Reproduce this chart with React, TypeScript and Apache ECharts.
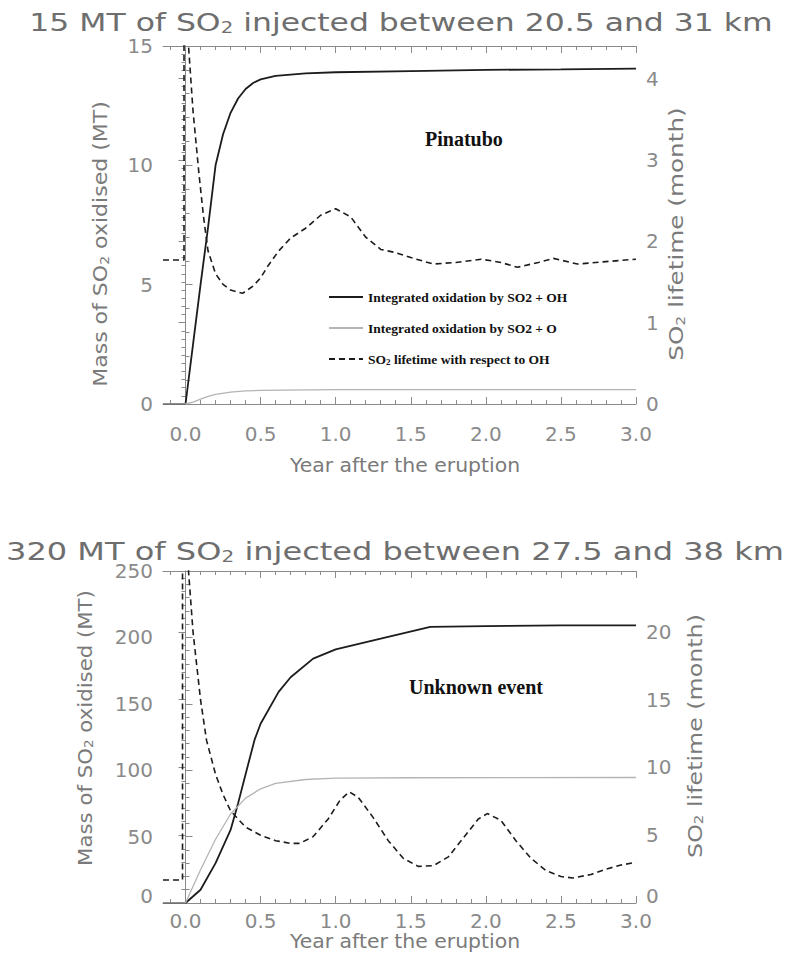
import React, { useEffect, useRef } from "react";
import * as echarts from "echarts";

// ---------- DATA ----------
// Pinatubo (15 MT)
const pinOHYears = [-0.15, 0.0, 0.05, 0.1, 0.15, 0.2, 0.25, 0.3, 0.35, 0.4, 0.45, 0.5, 0.6, 0.8, 1.0, 1.5, 2.0, 2.5, 3.0];
const pinOHMass = [0, 0, 2.5, 5.0, 7.4, 10.0, 11.3, 12.2, 12.8, 13.2, 13.45, 13.6, 13.75, 13.85, 13.9, 13.95, 14.0, 14.02, 14.05];

const pinOYears = [-0.15, 0.0, 0.05, 0.1, 0.15, 0.2, 0.3, 0.4, 0.5, 1.0, 2.0, 3.0];
const pinOMass = [0, 0, 0.08, 0.2, 0.32, 0.4, 0.5, 0.55, 0.57, 0.6, 0.6, 0.6];

const pinLifeYears = [-0.15, -0.01, -0.01, 0.01, 0.02, 0.05, 0.09, 0.12, 0.15, 0.2, 0.25, 0.3, 0.38, 0.45, 0.5, 0.55, 0.62, 0.7, 0.8, 0.9, 1.0, 1.1, 1.2, 1.3, 1.4, 1.5, 1.65, 1.8, 1.97, 2.1, 2.21, 2.35, 2.45, 2.61, 2.8, 3.0];
const pinLifeMonths = [1.77, 1.77, 6, 6, 4.4, 3.6, 2.82, 2.3, 1.88, 1.6, 1.47, 1.4, 1.36, 1.45, 1.55, 1.7, 1.88, 2.04, 2.16, 2.32, 2.4, 2.3, 2.05, 1.9, 1.86, 1.8, 1.72, 1.74, 1.78, 1.74, 1.68, 1.74, 1.79, 1.72, 1.75, 1.78];

// Unknown event (320 MT)
const unkOHYears = [-0.15, 0.0, 0.1, 0.2, 0.3, 0.35, 0.4, 0.46, 0.5, 0.62, 0.7, 0.85, 1.0, 1.3, 1.63, 2.0, 2.5, 3.0];
const unkOHMass = [0, 0, 10, 30, 55, 75, 97, 123, 135, 159, 170, 184, 191, 199, 208, 208.5, 209, 209];

const unkOYears = [-0.15, 0.0, 0.1, 0.2, 0.3, 0.4, 0.5, 0.6, 0.8, 1.0, 1.5, 3.0];
const unkOMass = [0, 0, 25, 48, 67, 79, 86, 90, 93, 94, 94.3, 94.5];

const unkLifeYears = [-0.15, -0.02, -0.02, 0.0, 0.02, 0.05, 0.1, 0.14, 0.2, 0.25, 0.3, 0.4, 0.5, 0.6, 0.7, 0.76, 0.85, 0.95, 1.03, 1.09, 1.15, 1.25, 1.35, 1.45, 1.55, 1.65, 1.75, 1.85, 1.95, 2.01, 2.1, 2.2, 2.3, 2.4, 2.5, 2.58, 2.7, 2.8, 2.9, 3.0];
const unkLifeMonths = [1.7, 1.7, 40, 40, 24.5, 20, 15, 12, 9.5, 8.0, 6.8, 5.6, 5.0, 4.6, 4.4, 4.4, 4.9, 6.2, 7.6, 8.2, 7.8, 6.3, 4.6, 3.3, 2.7, 2.75, 3.4, 4.8, 6.2, 6.6, 6.1, 4.6, 3.3, 2.4, 1.95, 1.85, 2.1, 2.5, 2.8, 3.0];

// ---------- AXES / TICKS ----------
const X_MIN = -0.15;
const X_MAX = 3.0;
const xMajorTicks = [0, 0.5, 1.0, 1.5, 2.0, 2.5, 3.0];
const xMinorTicks = [-0.1, 0.0, 0.1, 0.2, 0.3, 0.4, 0.5, 0.6, 0.7, 0.8, 0.9, 1.0, 1.1, 1.2, 1.3, 1.4, 1.5, 1.6, 1.7, 1.8, 1.9, 2.0, 2.1, 2.2, 2.3, 2.4, 2.5, 2.6, 2.7, 2.8, 2.9, 3.0];

const titles = [
  "15 MT of SO{s|2} injected between 20.5 and 31 km",
  "320 MT of SO{s|2} injected between 27.5 and 38 km",
];
const xAxisName = "Year after the eruption";
const massName = "Mass of SO{s|2} oxidised (MT)";
const lifeName = "SO{s|2} lifetime (month)";
const panelLabels = ["Pinatubo", "Unknown event"];
const legendNames = [
  "Integrated oxidation by SO2 + OH",
  "Integrated oxidation by SO2 + O",
  "SO2 lifetime with respect to OH",
];

const zip = (xs: number[], ys: number[]) => xs.map((x, i) => [x, ys[i]]);

const AXIS_COLOR = "#8a8a8a";
const LABEL_COLOR = "#8a8a8a";
const NAME_COLOR = "#7a7a7a";
const FONT = "DejaVu Sans";

function xAxesFor(gridIndex: number, labelMargin: number) {
  const base = {
    type: "value",
    gridIndex,
    min: X_MIN,
    max: X_MAX,
    splitLine: { show: false },
  };
  return [
    {
      ...base,
      position: "bottom",
      axisLine: { show: true, lineStyle: { color: AXIS_COLOR, width: 1 } },
      axisTick: { show: true, inside: true, length: 7, customValues: xMajorTicks, lineStyle: { color: AXIS_COLOR } },
      axisLabel: {
        show: true,
        customValues: xMajorTicks,
        formatter: (v: number) => v.toFixed(1),
        color: LABEL_COLOR,
        fontSize: 20,
        lineHeight: 14,
        fontFamily: FONT,
        margin: labelMargin,
      },
    },
    {
      ...base,
      position: "bottom",
      axisLine: { show: false },
      axisTick: { show: true, inside: true, length: 4, customValues: xMinorTicks, lineStyle: { color: AXIS_COLOR } },
      axisLabel: { show: false },
    },
    {
      ...base,
      position: "top",
      axisLine: { show: true, lineStyle: { color: AXIS_COLOR, width: 1 } },
      axisTick: { show: true, inside: true, length: 7, customValues: xMajorTicks, lineStyle: { color: AXIS_COLOR } },
      axisLabel: { show: false },
    },
    {
      ...base,
      position: "top",
      axisLine: { show: false },
      axisTick: { show: true, inside: true, length: 4, customValues: xMinorTicks, lineStyle: { color: AXIS_COLOR } },
      axisLabel: { show: false },
    },
  ];
}

function yAxis(gridIndex: number, position: string, max: number, interval: number, minorSplit: number, liftZero = false) {
  return {
    type: "value",
    gridIndex,
    position,
    min: 0,
    max,
    interval,
    splitLine: { show: false },
    axisLine: { show: true, lineStyle: { color: AXIS_COLOR, width: 1 } },
    axisTick: { show: true, inside: true, length: 7, lineStyle: { color: AXIS_COLOR } },
    minorTick: { show: true, splitNumber: minorSplit, length: 4, lineStyle: { color: AXIS_COLOR } },
    axisLabel: {
      color: LABEL_COLOR,
      fontSize: 20,
      lineHeight: 14,
      fontFamily: FONT,
      margin: 10,
      showMaxLabel: max % interval === 0,
      formatter: liftZero ? (v: number) => (v === 0 ? "{z|0}" : String(v)) : undefined,
      rich: liftZero
        ? { z: { fontSize: 20, lineHeight: 14, fontFamily: FONT, color: LABEL_COLOR, padding: [0, 0, 14, 0] } }
        : undefined,
    },
  };
}

const ohStyle = { color: "#1c1c1c", width: 1.8 };
const oStyle = { color: "#b4b4b4", width: 1.3 };
const lifeStyle = { color: "#1c1c1c", width: 1.6, type: [6, 4] };

function lineSeries(name: string, xi: number, yi: number, data: number[][], lineStyle: any) {
  return {
    type: "line",
    name,
    xAxisIndex: xi,
    yAxisIndex: yi,
    data,
    symbol: "none",
    showSymbol: false,
    color: lineStyle.color,
    lineStyle,
    clip: true,
    z: 3,
  };
}

function hText(text: string, x: number, y: number, size: number, subSize: number, color: string, scaleX: number, rotation = 0) {
  return {
    type: "text",
    x,
    y,
    rotation,
    scaleX,
    silent: true,
    style: {
      text,
      fill: color,
      fontSize: size,
      fontFamily: FONT,
      align: "center",
      verticalAlign: "middle",
      textAlign: "center",
      textVerticalAlign: "middle",
      rich: {
        s: { fontSize: subSize, fontFamily: FONT, fill: color, color, verticalAlign: "bottom", lineHeight: subSize },
      },
    },
  };
}

export default function App() {
  const ref = useRef<HTMLDivElement>(null);

  useEffect(() => {
    if (!ref.current) return;
    const chart = echarts.init(ref.current, undefined, { renderer: "svg" });
    const ROT = Math.PI / 2;

    const option: any = {
      animation: false,
      backgroundColor: "#ffffff",
      grid: [
        { left: 163, right: 154, top: 46, height: 358 },
        { left: 163, right: 154, top: 571, height: 332 },
      ],
      xAxis: [...xAxesFor(0, 23), ...xAxesFor(1, 11)],
      yAxis: [
        yAxis(0, "left", 15, 5, 5),
        yAxis(0, "right", 4.4, 1, 10),
        yAxis(1, "left", 250, 50, 5, true),
        yAxis(1, "right", 24.5, 5, 5, true),
      ],
      legend: {
        show: true,
        orient: "vertical",
        left: 328,
        top: 290,
        padding: 0,
        itemWidth: 34,
        itemHeight: 14,
        itemGap: 17,
        itemStyle: { opacity: 0 },
        data: legendNames,
        formatter: (n: string) => (n.startsWith("SO2 lifetime") ? "SO{s|2} lifetime with respect to OH" : n),
        textStyle: {
          color: "#111",
          fontSize: 13.5,
          fontWeight: "bold",
          fontFamily: "Liberation Serif",
          rich: { s: { fontSize: 9, verticalAlign: "bottom", lineHeight: 9, fontWeight: "bold", fontFamily: "Liberation Serif", color: "#111" } },
        },
      },
      graphic: [
        hText(titles[0], 401, 23, 24, 15, "#6e6e6e", 1.31),
        hText(titles[1], 395, 552, 24, 15, "#6e6e6e", 1.335),
        hText(xAxisName, 405, 465, 20, 13, NAME_COLOR, 1.02),
        hText(xAxisName, 405, 941, 20, 13, NAME_COLOR, 1.02),
        hText(massName, 101, 244, 19, 12, NAME_COLOR, 1.16, ROT),
        hText(lifeName, 677, 234, 19, 12, NAME_COLOR, 1.3, ROT),
        hText(massName, 85, 728, 19, 12, NAME_COLOR, 1.12, ROT),
        hText(lifeName, 695, 736, 19, 12, NAME_COLOR, 1.25, ROT),
        {
          type: "text",
          left: 425,
          top: 129,
          silent: true,
          style: { text: panelLabels[0], font: "bold 20px 'Liberation Serif'", fill: "#111" },
        },
        {
          type: "text",
          left: 409,
          top: 677,
          silent: true,
          style: { text: panelLabels[1], font: "bold 20px 'Liberation Serif'", fill: "#111" },
        },
      ],
      series: [
        lineSeries(legendNames[0], 0, 0, zip(pinOHYears, pinOHMass), ohStyle),
        lineSeries(legendNames[1], 0, 0, zip(pinOYears, pinOMass), oStyle),
        lineSeries(legendNames[2], 0, 1, zip(pinLifeYears, pinLifeMonths), lifeStyle),
        lineSeries(legendNames[0], 4, 2, zip(unkOHYears, unkOHMass), ohStyle),
        lineSeries(legendNames[1], 4, 2, zip(unkOYears, unkOMass), oStyle),
        lineSeries(legendNames[2], 4, 3, zip(unkLifeYears, unkLifeMonths), lifeStyle),
      ],
    };

    chart.setOption(option);
    return () => chart.dispose();
  }, []);

  return (
    <div
      ref={ref}
      style={{ position: "absolute", left: 0, top: 0, width: 790, height: 971 }}
    />
  );
}
